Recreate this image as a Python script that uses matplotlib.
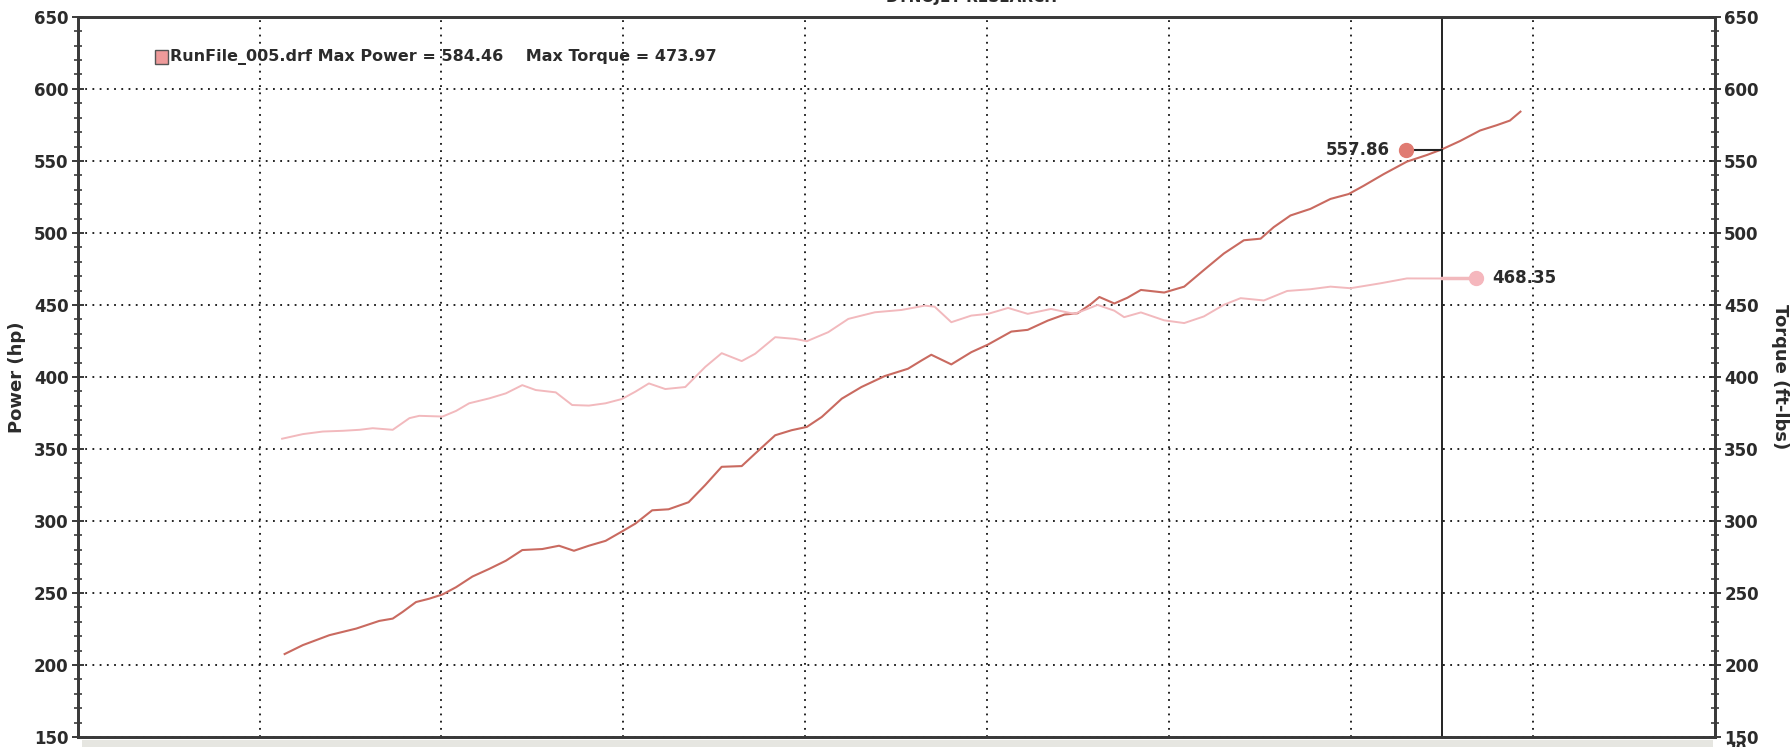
import matplotlib
matplotlib.use("Agg")
import matplotlib.pyplot as plt
from matplotlib.patches import Rectangle
from matplotlib.ticker import MultipleLocator, NullFormatter


OUTPUT_FILE = "out.png"

# engine speed (rpm) and power (hp)
POWER_RPM = [3069, 3119, 3192, 3266, 3329, 3366, 3393, 3430, 3466, 3503, 3540, 3585,
             3631, 3677, 3722, 3777, 3823, 3864, 3905, 3951, 3996, 4033, 4079, 4124,
             4179, 4225, 4270, 4325, 4362, 4417, 4462, 4504, 4545, 4600, 4654, 4718,
             4782, 4819, 4846, 4901, 4956, 5002, 5066, 5111, 5166, 5212, 5248, 5285,
             5308, 5349, 5385, 5422, 5486, 5541, 5595, 5650, 5705, 5751, 5787, 5833,
             5888, 5943, 5993, 6034, 6089, 6153, 6208, 6249, 6299, 6354, 6400, 6436,
             6465]
POWER_HP = [207.6, 213.8, 220.7, 225.3, 230.6, 232.2, 236.8, 243.7, 246.0, 249.0, 254.0, 261.4,
            266.7, 272.4, 279.8, 280.5, 282.8, 279.3, 282.8, 286.2, 292.7, 298.2, 307.4, 308.1,
            313.0, 325.0, 337.6, 338.1, 346.8, 359.5, 363.0, 365.3, 372.2, 384.9, 393.0, 400.6,
            405.7, 411.4, 415.4, 408.7, 417.2, 422.5, 431.5, 432.7, 439.1, 443.3, 444.2, 450.7,
            455.5, 451.0, 455.0, 460.4, 458.6, 462.7, 474.2, 485.7, 494.9, 496.0, 504.0, 512.1,
            516.7, 523.6, 527.0, 532.7, 540.8, 549.5, 554.1, 558.0, 563.8, 571.1, 574.8, 578.0,
            584.2]

# engine speed (rpm) and torque (ft-lbs)
TORQUE_RPM = [3062, 3119, 3174, 3229, 3275, 3311, 3366, 3412, 3439, 3503, 3540, 3576,
              3631, 3677, 3722, 3759, 3814, 3859, 3905, 3951, 3996, 4033, 4070, 4115,
              4170, 4225, 4270, 4325, 4362, 4417, 4472, 4504, 4563, 4618, 4691, 4764,
              4828, 4855, 4901, 4956, 5002, 5057, 5111, 5175, 5239, 5275, 5303, 5349,
              5376, 5422, 5486, 5541, 5595, 5650, 5696, 5760, 5824, 5888, 5943, 5998,
              6080, 6153, 6249]
TORQUE_FTLB = [357.1, 360.3, 362.1, 362.6, 363.3, 364.4, 363.3, 371.4, 373.0, 372.5, 376.4, 381.7,
               385.1, 388.6, 394.3, 390.9, 389.3, 380.5, 380.1, 381.7, 384.7, 389.8, 395.5, 391.6,
               393.0, 407.0, 416.5, 411.0, 416.1, 427.6, 426.4, 424.8, 431.1, 440.3, 444.9, 446.5,
               449.5, 448.8, 438.0, 442.6, 443.8, 447.9, 443.8, 447.2, 443.8, 447.2, 450.0, 446.0,
               441.5, 444.8, 439.3, 437.4, 442.0, 450.1, 454.7, 453.1, 459.7, 460.9, 462.7, 461.6,
               465.0, 468.4, 468.35]

CURSOR_RPM = 6249
POWER_AT_CURSOR = 557.86
TORQUE_AT_CURSOR = 468.35
POWER_DOT_RPM = 6151
TORQUE_DOT_RPM = 6343

LEGEND_TEXT = "RunFile_005.drf Max Power = 584.46    Max Torque = 473.97"

POWER_COLOR = "#c96a60"
TORQUE_COLOR = "#f2b9bd"
TEXT_COLOR = "#2b2b2b"


def style_axis(ax):
    ax.set_xlim(2500, 7000)
    ax.set_ylim(150, 650)
    ax.yaxis.set_major_locator(MultipleLocator(50))
    ax.yaxis.set_minor_locator(MultipleLocator(10))
    ax.tick_params(axis="y", which="major", direction="inout", length=9, width=1.3,
                   colors=TEXT_COLOR, labelsize=12, pad=2)
    ax.tick_params(axis="y", which="minor", direction="inout", length=6, width=1.1,
                   colors=TEXT_COLOR)
    for label in ax.get_yticklabels():
        label.set_fontweight("bold")
    for spine in ax.spines.values():
        spine.set_linewidth(2.0)
        spine.set_color("#3a3a3a")


def main() -> None:
    fig = plt.figure(figsize=(17.92, 7.47), dpi=100)
    ax = fig.add_axes([0.0433, 0.0134, 0.9138, 0.964])

    # grid
    ax.xaxis.set_major_locator(MultipleLocator(500))
    ax.xaxis.set_major_formatter(NullFormatter())
    ax.tick_params(axis="x", which="both", length=0)
    ax.grid(True, which="major", color="#111111", linestyle=(0, (1, 3)), linewidth=1.3)
    style_axis(ax)
    ax.set_ylabel("Power (hp)", fontsize=13, fontweight="bold", color=TEXT_COLOR, labelpad=6)

    ax2 = ax.twinx()
    style_axis(ax2)
    ax2.set_ylabel("Torque (ft-lbs)", fontsize=13, fontweight="bold", color=TEXT_COLOR,
                   rotation=270, labelpad=22)
    ax2.set_yticks(range(150, 651, 50))
    ax2.set_yticklabels([str(v) for v in range(150, 651, 50)], fontweight="bold")

    # cursor
    ax.axvline(CURSOR_RPM, color="#111111", linewidth=1.3, zorder=3)

    ax2.plot(TORQUE_RPM, TORQUE_FTLB, color=TORQUE_COLOR, linewidth=1.4, zorder=4)
    ax.plot(POWER_RPM, POWER_HP, color=POWER_COLOR, linewidth=1.5, zorder=5)

    # cursor readouts
    ax.plot([POWER_DOT_RPM, CURSOR_RPM], [POWER_AT_CURSOR, POWER_AT_CURSOR],
            color="#222222", linewidth=1.5, zorder=6)
    ax.plot(POWER_DOT_RPM, POWER_AT_CURSOR, "o", color="#e07b72", markersize=10, zorder=7)
    ax.text(POWER_DOT_RPM - 45, POWER_AT_CURSOR, f"{POWER_AT_CURSOR:.2f}", ha="right",
            va="center", fontsize=12, fontweight="bold", color=TEXT_COLOR)

    ax2.plot([CURSOR_RPM, TORQUE_DOT_RPM], [TORQUE_AT_CURSOR, TORQUE_AT_CURSOR],
             color=TORQUE_COLOR, linewidth=2.5, zorder=6)
    ax2.plot(TORQUE_DOT_RPM, TORQUE_AT_CURSOR, "o", color="#f5b7bd", markersize=10, zorder=7)
    ax2.text(TORQUE_DOT_RPM + 45, TORQUE_AT_CURSOR, f"{TORQUE_AT_CURSOR:.2f}", ha="left",
             va="center", fontsize=12, fontweight="bold", color=TEXT_COLOR)

    # legend line
    ax.add_patch(Rectangle((0.0475, 0.935), 0.0075, 0.019, transform=ax.transAxes,
                           facecolor="#ee9a9a", edgecolor="#555555", linewidth=1.0, zorder=8))
    ax.text(0.0565, 0.944, LEGEND_TEXT, transform=ax.transAxes, ha="left", va="center",
            fontsize=11.5, fontweight="bold", color=TEXT_COLOR, zorder=8)

    # cut-off header and footer of the scanned sheet
    fig.text(0.542, 1.004, "DYNOJET RESEARCH", ha="center", va="center", fontsize=11,
             fontweight="bold", color=TEXT_COLOR)
    fig.patches.append(Rectangle((0.046, 0.0), 0.91, 0.009, transform=fig.transFigure,
                                 facecolor="#e6e6e1", edgecolor="none"))
    fig.text(0.969, -0.004, "20", ha="center", va="center", fontsize=11,
             fontweight="bold", color=TEXT_COLOR)

    fig.savefig(OUTPUT_FILE, dpi=100)
    plt.close(fig)


if __name__ == "__main__":
    main()
